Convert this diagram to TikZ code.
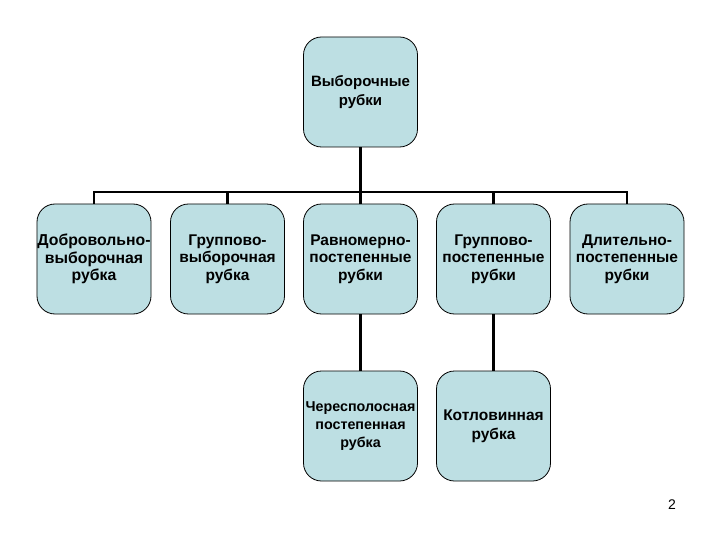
\documentclass[tikz,border=0pt]{standalone}
\usepackage{fontspec}
\setmainfont{Liberation Sans}
\definecolor{boxfill}{RGB}{189,223,227}
\begin{document}
\begin{tikzpicture}[x=1bp,y=-1bp,
  boxnode/.style={draw=black, line width=0.8bp, fill=boxfill, rounded corners=18bp,
    minimum width=114bp, minimum height=110bp, inner sep=0pt, align=center,
    font=\fontsize{15.5bp}{17.5bp}\selectfont\bfseries},
  conn/.style={line width=2.6bp, line join=miter}]
\useasboundingbox (0,0) rectangle (720,540);
\node[boxnode, font=\fontsize{15bp}{19bp}\selectfont\bfseries] (top) at (360.5,92) {Выборочные\\рубки};
\node[boxnode, font=\fontsize{15.8bp}{17.5bp}\selectfont\bfseries] (n1) at (94,259) {Добровольно-\\выборочная\\рубка};
\node[boxnode] (n2) at (227.5,259) {Группово-\\выборочная\\рубка};
\node[boxnode] (n3) at (360.5,259) {Равномерно-\\постепенные\\рубки};
\node[boxnode] (n4) at (493.5,259) {Группово-\\постепенные\\рубки};
\node[boxnode] (n5) at (627,259) {Длительно-\\постепенные\\рубки};
\node[boxnode, font=\fontsize{14.3bp}{18bp}\selectfont\bfseries] (n6) at (360.5,426) {Чересполосная\\постепенная\\рубка};
\node[boxnode, font=\fontsize{15.5bp}{19bp}\selectfont\bfseries] (n7) at (493.5,426) {Котловинная\\рубка};
\coordinate (bus) at (0,192);
\node[font=\fontsize{14bp}{17bp}\selectfont] (pg) at (672,505) {2};
\draw[conn] (top.south) -- (top.south |- bus);
\draw[conn] (n1.north) -- (n1.north |- bus) -- (n5.north |- bus) -- (n5.north);
\draw[conn] (n2.north) -- (n2.north |- bus);
\draw[conn] (n3.north) -- (n3.north |- bus);
\draw[conn] (n4.north) -- (n4.north |- bus);
\draw[conn] (n3.south) -- (n6.north);
\draw[conn] (n4.south) -- (n7.north);
\end{tikzpicture}
\end{document}
